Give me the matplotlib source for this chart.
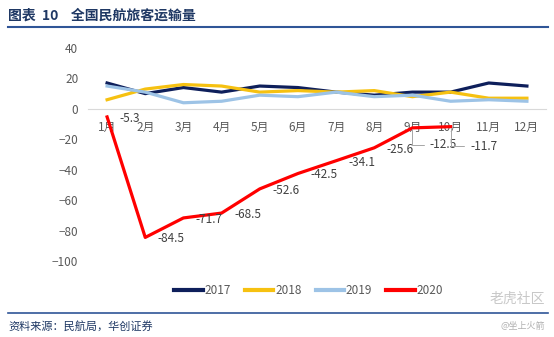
import numpy as np
import matplotlib
matplotlib.use('Agg')
from matplotlib import pyplot as plt

plt.rcParams['font.family'] = ['Noto Sans CJK SC', 'DejaVu Sans']

# data
months = ['1月', '2月', '3月', '4月', '5月', '6月', '7月', '8月', '9月', '10月', '11月', '12月']
y2017 = [17, 10, 14, 11, 15, 14, 11, 9, 11, 11, 17, 15]
y2018 = [6, 13, 16, 15, 11, 12, 11, 12, 8, 11, 7, 7]
y2019 = [15, 11, 4, 5, 9, 8, 11, 8, 9, 5, 6, 5]
y2020 = [-5.3, -84.5, -71.7, -68.5, -52.6, -42.5, -34.1, -25.6, -12.5, -11.7]

x = np.arange(1, 13)

fig = plt.figure(figsize=(5.54, 3.37), dpi=100)
ax = fig.add_axes([88/554, 1-261/337, 458/554, 213/337])

ax.plot(x, y2017, color='#0e1f5b', lw=2.3, label='2017')
ax.plot(x, y2018, color='#f6c111', lw=2.3, label='2018')
ax.plot(x, y2019, color='#9dc3e6', lw=2.3, label='2019')
ax.plot(x[:len(y2020)], y2020, color='#ff0000', lw=2.3, label='2020')

# data labels for 2020
for i, v in enumerate(y2020):
    if i < 8:
        ax.annotate('%.1f' % v, (x[i], v), xytext=(9, -1), textcoords='offset points',
                    ha='left', va='center', fontsize=8.5, color='#404040')
    else:
        off = (12, -12) if i == 8 else (14, -14)
        ax.annotate('%.1f' % v, (x[i], v), xytext=off, textcoords='offset points',
                    ha='left', va='center', fontsize=8.5, color='#404040',
                    arrowprops=dict(arrowstyle='-', color='#a6a6a6', lw=0.7,
                                    connectionstyle='angle,angleA=0,angleB=90,rad=0',
                                    shrinkA=2, shrinkB=1))

ax.set_xlim(0.5, 12.5)
ax.set_ylim(-100, 40)
ax.set_yticks([-100, -80, -60, -40, -20, 0, 20, 40])
ax.set_xticks(x)
ax.set_xticklabels(months)
ax.spines['bottom'].set_position(('data', 0))
ax.spines['bottom'].set_color('#d9d9d9')
for s in ['top', 'right', 'left']:
    ax.spines[s].set_visible(False)
ax.tick_params(axis='x', length=0, pad=9, labelsize=8.5, labelcolor='#595959')
ax.tick_params(axis='y', length=0, pad=7, labelsize=8.5, labelcolor='#595959')

leg = fig.legend(loc='center', bbox_to_anchor=(0.557, 1-291/337), ncol=4, frameon=False,
                 fontsize=8.5, handlelength=2.4, handletextpad=0.15, columnspacing=1.2,
                 labelcolor='#595959')
for line in leg.get_lines():
    line.set_linewidth(3)

# title and footer
fig.text(8/554, 1-16/337, '图表  10    全国民航旅客运输量', fontsize=10, fontweight='bold',
         color='#1f3864', va='center', ha='left')
fig.add_artist(plt.Line2D([8/554, 548/554], [1-27/337, 1-27/337], color='#2f5597', lw=1.5))
fig.add_artist(plt.Line2D([8/554, 548/554], [1-313/337, 1-313/337], color='#2f5597', lw=1.2))
fig.text(8/554, 1-326/337, '资料来源：民航局，华创证券', fontsize=8, style='italic',
         color='#1f3864', va='center', ha='left')
fig.text(545/554, 1-299/337, '老虎社区', fontsize=10, color='#c8c8c8', va='center', ha='right')
fig.text(545/554, 1-326/337, '@坐上火箭', fontsize=6.5, color='#b0b0b0', va='center', ha='right')

fig.savefig('out.png', dpi=100)
